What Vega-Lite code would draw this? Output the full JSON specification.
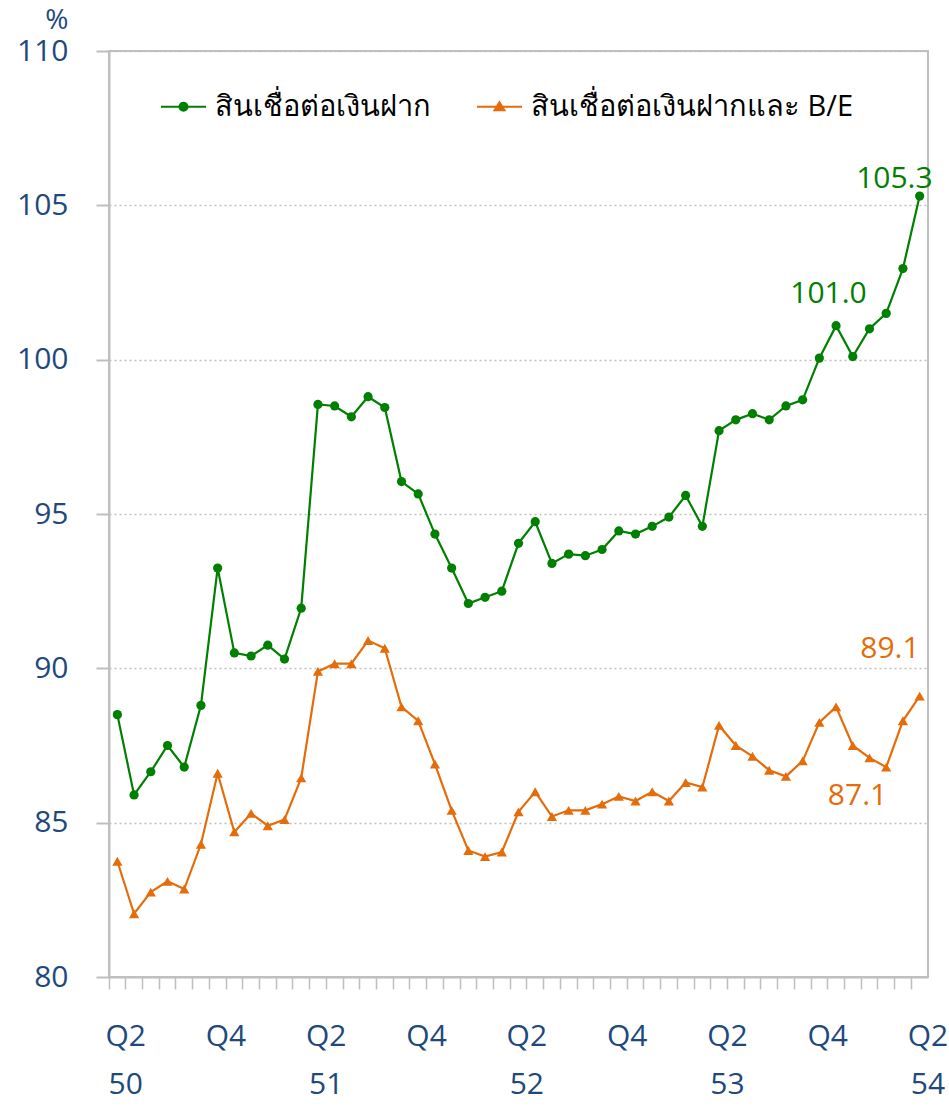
{
  "$schema": "https://vega.github.io/schema/vega-lite/v6.json",
  "width": 819,
  "height": 926,
  "autosize": "none",
  "padding": {"left": 109, "top": 51, "right": 21, "bottom": 134},
  "background": "white",
  "config": {
    "font": "Open Sans",
    "view": {"stroke": "#BFBFBF", "strokeWidth": 2}
  },
  "data": {
    "values": [
      {"m": "2550-06", "ld": 88.5, "lbe": 83.75},
      {"m": "2550-07", "ld": 85.9, "lbe": 82.05},
      {"m": "2550-08", "ld": 86.65, "lbe": 82.75},
      {"m": "2550-09", "ld": 87.5, "lbe": 83.1},
      {"m": "2550-10", "ld": 86.8, "lbe": 82.85},
      {"m": "2550-11", "ld": 88.8, "lbe": 84.3},
      {"m": "2550-12", "ld": 93.25, "lbe": 86.6},
      {"m": "2551-01", "ld": 90.5, "lbe": 84.7},
      {"m": "2551-02", "ld": 90.4, "lbe": 85.3},
      {"m": "2551-03", "ld": 90.75, "lbe": 84.9},
      {"m": "2551-04", "ld": 90.3, "lbe": 85.1},
      {"m": "2551-05", "ld": 91.95, "lbe": 86.45},
      {"m": "2551-06", "ld": 98.55, "lbe": 89.9},
      {"m": "2551-07", "ld": 98.5, "lbe": 90.15},
      {"m": "2551-08", "ld": 98.15, "lbe": 90.15},
      {"m": "2551-09", "ld": 98.8, "lbe": 90.9},
      {"m": "2551-10", "ld": 98.45, "lbe": 90.65},
      {"m": "2551-11", "ld": 96.05, "lbe": 88.75},
      {"m": "2551-12", "ld": 95.65, "lbe": 88.3},
      {"m": "2552-01", "ld": 94.35, "lbe": 86.9},
      {"m": "2552-02", "ld": 93.25, "lbe": 85.4},
      {"m": "2552-03", "ld": 92.1, "lbe": 84.1},
      {"m": "2552-04", "ld": 92.3, "lbe": 83.9},
      {"m": "2552-05", "ld": 92.5, "lbe": 84.05},
      {"m": "2552-06", "ld": 94.05, "lbe": 85.35},
      {"m": "2552-07", "ld": 94.75, "lbe": 86.0},
      {"m": "2552-08", "ld": 93.4, "lbe": 85.2},
      {"m": "2552-09", "ld": 93.7, "lbe": 85.4},
      {"m": "2552-10", "ld": 93.65, "lbe": 85.4},
      {"m": "2552-11", "ld": 93.85, "lbe": 85.6},
      {"m": "2552-12", "ld": 94.45, "lbe": 85.85},
      {"m": "2553-01", "ld": 94.35, "lbe": 85.7},
      {"m": "2553-02", "ld": 94.6, "lbe": 86.0},
      {"m": "2553-03", "ld": 94.9, "lbe": 85.7},
      {"m": "2553-04", "ld": 95.6, "lbe": 86.3},
      {"m": "2553-05", "ld": 94.6, "lbe": 86.15},
      {"m": "2553-06", "ld": 97.7, "lbe": 88.15},
      {"m": "2553-07", "ld": 98.05, "lbe": 87.5},
      {"m": "2553-08", "ld": 98.25, "lbe": 87.15},
      {"m": "2553-09", "ld": 98.05, "lbe": 86.7},
      {"m": "2553-10", "ld": 98.5, "lbe": 86.5},
      {"m": "2553-11", "ld": 98.7, "lbe": 87.0},
      {"m": "2553-12", "ld": 100.05, "lbe": 88.25},
      {"m": "2554-01", "ld": 101.1, "lbe": 88.75},
      {"m": "2554-02", "ld": 100.1, "lbe": 87.5},
      {"m": "2554-03", "ld": 101.0, "lbe": 87.1},
      {"m": "2554-04", "ld": 101.5, "lbe": 86.8},
      {"m": "2554-05", "ld": 102.95, "lbe": 88.3},
      {"m": "2554-06", "ld": 105.3, "lbe": 89.1}
    ]
  },
  "transform": [{"fold": ["ld", "lbe"], "as": ["s", "v"]}],
  "encoding": {
    "x": {
      "field": "m",
      "type": "ordinal",
      "scale": {"type": "band", "paddingInner": 0, "paddingOuter": 0},
      "axis": {
        "title": null,
        "bandPosition": 0,
        "labelOffset": 8.35,
        "labelAngle": 0,
        "labelAlign": "center",
        "labelBaseline": "top",
        "labelExpr": "substring(datum.value,5,7)=='06' ? ['Q2', substring(datum.value,2,4)] : (substring(datum.value,5,7)=='12' ? 'Q4' : '')",
        "labelOverlap": false,
        "labelBound": false,
        "labelFlush": false,
        "labelFontSize": 30,
        "labelColor": "#1F497D",
        "labelPadding": 32,
        "labelLineHeight": 48,
        "tickSize": 12,
        "tickColor": "#BFBFBF",
        "tickWidth": 1.5,
        "domainColor": "#BFBFBF",
        "domainWidth": 2,
        "grid": false
      }
    },
    "y": {
      "field": "v",
      "type": "quantitative",
      "scale": {"domain": [80, 110], "nice": false, "zero": false},
      "axis": {
        "title": "%",
        "titleAngle": 0,
        "titleAlign": "right",
        "titleBaseline": "bottom",
        "titleX": -41,
        "titleY": -17,
        "titleFontSize": 28,
        "titleFontWeight": "normal",
        "titleColor": "#1F497D",
        "values": [80, 85, 90, 95, 100, 105, 110],
        "labelFontSize": 30,
        "labelColor": "#1F497D",
        "labelPadding": 28,
        "tickSize": 13,
        "tickColor": "#BFBFBF",
        "tickWidth": 2,
        "domainColor": "#BFBFBF",
        "domainWidth": 2,
        "grid": true,
        "gridColor": "#BFBFBF",
        "gridDash": [2, 3],
        "gridWidth": 1.5
      }
    }
  },
  "layer": [
    {
      "mark": {"type": "line", "strokeWidth": 2.2},
      "encoding": {
        "color": {
          "field": "s",
          "type": "nominal",
          "scale": {"domain": ["ld", "lbe"], "range": ["#008000", "#E46C0A"]}
        }
      }
    },
    {
      "mark": {"type": "point", "filled": true, "opacity": 1},
      "encoding": {
        "color": {"field": "s", "type": "nominal"},
        "shape": {
          "condition": {"test": "datum.s == 'ld'", "value": "circle"},
          "value": "triangle-up"
        },
        "size": {
          "condition": {"test": "datum.s == 'ld'", "value": 85},
          "value": 105
        }
      }
    },
    {
      "transform": [{"filter": "datum.v < 0"}],
      "mark": {"type": "point", "filled": true, "size": 2025},
      "encoding": {
        "color": {
          "field": "s",
          "type": "nominal",
          "legend": {
            "title": null,
            "orient": "none",
            "legendX": 51,
            "legendY": 32,
            "direction": "horizontal",
            "columnPadding": 42,
            "labelFontSize": 29,
            "labelLimit": 0,
            "labelOffset": 8,
            "symbolStrokeWidth": 2,
            "symbolSize": 2025,
            "labelExpr": "datum.value == 'ld' ? 'สินเชื่อต่อเงินฝาก' : 'สินเชื่อต่อเงินฝากและ B/E'",
            "encode": {"labels": {"update": {"fill": {"scale": "color", "field": "value"}}}}
          }
        },
        "shape": {
          "field": "s",
          "type": "nominal",
          "scale": {
            "domain": ["ld", "lbe"],
            "range": [
              "M-1,0L1,0M-0.18,0A0.18,0.18,0,1,1,0.18,0A0.18,0.18,0,1,1,-0.18,0Z",
              "M-1,0L1,0M0,-0.2L0.22,0.16L-0.22,0.16Z"
            ]
          },
          "legend": {
            "title": null,
            "orient": "none",
            "legendX": 51,
            "legendY": 32,
            "direction": "horizontal",
            "columnPadding": 42,
            "labelFontSize": 29,
            "labelLimit": 0,
            "labelOffset": 8,
            "symbolStrokeWidth": 2,
            "symbolSize": 2025,
            "labelExpr": "datum.value == 'ld' ? 'สินเชื่อต่อเงินฝาก' : 'สินเชื่อต่อเงินฝากและ B/E'"
          }
        }
      }
    },
    {
      "transform": [{"filter": "datum.m == '2554-06' && datum.s == 'ld'"}],
      "mark": {"type": "text", "align": "right", "baseline": "alphabetic", "dx": 13, "dy": -8, "fontSize": 30},
      "encoding": {
        "text": {"field": "v", "type": "quantitative", "format": ".1f"},
        "color": {"field": "s", "type": "nominal"}
      }
    },
    {
      "transform": [{"filter": "datum.m == '2554-06' && datum.s == 'lbe'"}],
      "mark": {"type": "text", "align": "right", "baseline": "alphabetic", "dx": 0, "dy": -38, "fontSize": 30},
      "encoding": {
        "text": {"field": "v", "type": "quantitative", "format": ".1f"},
        "color": {"field": "s", "type": "nominal"}
      }
    },
    {
      "transform": [{"filter": "datum.m == '2554-03' && datum.s == 'ld'"}],
      "mark": {"type": "text", "align": "center", "baseline": "alphabetic", "dx": -41, "dy": -26, "fontSize": 30},
      "encoding": {
        "text": {"field": "v", "type": "quantitative", "format": ".1f"},
        "color": {"field": "s", "type": "nominal"}
      }
    },
    {
      "transform": [{"filter": "datum.m == '2554-03' && datum.s == 'lbe'"}],
      "mark": {"type": "text", "align": "center", "baseline": "alphabetic", "dx": -12, "dy": 47, "fontSize": 30},
      "encoding": {
        "text": {"field": "v", "type": "quantitative", "format": ".1f"},
        "color": {"field": "s", "type": "nominal"}
      }
    }
  ]
}
